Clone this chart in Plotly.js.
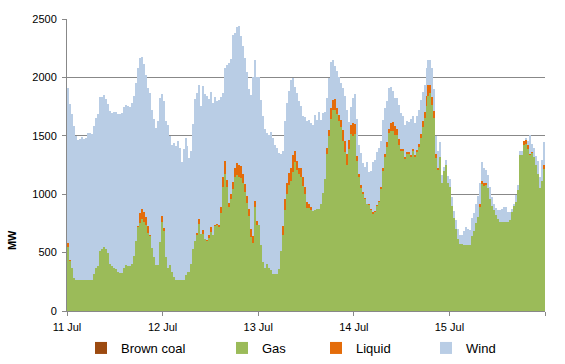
<!DOCTYPE html>
<html>
<head>
<meta charset="utf-8">
<script src="https://cdn.plot.ly/plotly-3.0.1.min.js"></script>
<style>html,body{margin:0;padding:0;background:#fff;}#chart{width:565px;height:364px;}</style>
</head>
<body>
<div id="chart"></div>
<script>
// Half-hourly generation (MW), 11 Jul 00:00 to 15 Jul 23:30, 48 values per day
const startDate = '2011-07-11T00:00:00';
const stepMinutes = 30;
const dayTicks = ['2011-07-11','2011-07-12','2011-07-13','2011-07-14','2011-07-15','2011-07-16'];
const dayLabels = ['11 Jul','12 Jul','13 Jul','14 Jul','15 Jul',''];
const seriesNames = ['Brown coal','Gas','Liquid','Wind'];

const brownCoal = [
0,0,0,0,0,0,0,0,0,0,0,0,0,0,0,0,0,0,0,0,0,0,0,0,0,0,0,0,0,0,0,0,0,0,0,0,0,0,0,0,0,0,0,0,0,0,0,0,
0,0,0,0,0,0,0,0,0,0,0,0,0,0,0,0,0,0,0,0,0,0,0,0,0,0,0,0,0,0,0,0,0,0,0,0,0,0,0,0,0,0,0,0,0,0,0,0,
0,0,0,0,0,0,0,0,0,0,0,0,0,0,0,0,0,0,0,0,0,0,0,0,0,0,0,0,0,0,0,0,0,0,0,0,0,0,0,0,0,0,0,0,0,0,0,0,
0,0,0,0,0,0,0,0,0,0,0,0,0,0,0,0,0,0,0,0,0,0,0,0,0,0,0,0,0,0,0,0,0,0,0,0,0,0,0,0,0,0,0,0,0,0,0,0,
0,0,0,0,0,0,0,0,0,0,0,0,0,0,0,0,0,0,0,0,0,0,0,0,0,0,0,0,0,0,0,0,0,0,0,0,0,0,0,0,0,0,0,0,0,0,0,0
];

const gas = [
548,428,368,283,265,265,265,265,265,265,265,265,265,317,368,385,514,531,548,531,497,402,385,368,360,334,325,325,368,394,385,385,402,471,599,719,753,788,762,736,668,642,539,462,394,394,591,762,
685,462,368,394,334,291,265,265,265,265,265,308,334,334,402,531,599,651,745,659,659,616,599,625,676,651,728,736,719,839,1062,1173,1062,890,959,1045,1147,1164,1147,1139,1096,1019,925,813,634,582,890,736,
736,565,419,368,402,368,351,317,317,317,360,514,651,865,1002,1079,1113,1190,1276,1207,1173,1147,1070,1002,882,882,865,856,865,873,873,916,1010,1130,1344,1498,1644,1721,1721,1687,1627,1575,1455,1361,1250,1387,1515,1498,
1515,1284,1147,1053,1002,959,916,907,865,830,848,899,933,1045,1199,1318,1404,1524,1541,1541,1507,1507,1421,1370,1370,1301,1344,1344,1318,1370,1318,1361,1404,1481,1575,1652,1755,1841,1866,1764,1652,1310,1207,1318,1096,1199,1250,1096,
1060,899,796,702,616,574,574,565,565,565,565,642,685,753,805,890,1088,1070,1079,1053,959,899,865,822,788,762,762,762,762,762,779,848,899,933,1036,1336,1336,1421,1430,1387,1336,1353,1318,1250,1173,1050,1113,1216
];

const liquid = [
34,9,0,0,0,0,0,0,0,0,0,0,0,0,0,0,0,0,0,0,0,0,0,0,0,0,0,0,0,0,0,0,0,0,0,9,86,86,86,68,60,9,0,0,0,0,0,51,
26,0,0,0,0,0,0,0,0,0,0,0,0,0,0,0,0,17,43,0,34,0,9,26,43,0,9,9,17,51,86,111,60,34,43,60,77,103,103,103,77,68,60,60,68,60,51,34,
0,0,0,0,0,0,0,0,0,0,0,0,77,94,94,103,111,145,94,77,51,77,77,60,51,34,26,0,0,0,0,0,0,0,51,51,94,86,94,51,51,60,94,94,94,77,77,111,
86,43,26,26,17,9,0,9,9,17,9,9,9,17,26,26,43,34,68,77,77,51,51,17,17,17,17,17,17,17,17,17,26,34,51,51,86,94,68,68,60,34,17,0,0,0,0,0,
0,0,0,0,0,0,0,0,0,0,0,0,0,0,0,26,26,26,17,0,0,0,0,0,0,0,0,0,0,0,0,0,0,0,0,0,0,34,34,34,9,9,0,0,0,0,0,34
];

const wind = [
1330,1335,1319,1301,1233,1199,1205,1222,1210,1216,1259,1259,1250,1267,1284,1302,1318,1301,1301,1284,1275,1310,1310,1336,1344,1353,1362,1370,1379,1370,1370,1362,1379,1370,1353,1355,1330,1301,1270,1217,1181,1215,1182,1182,1173,1233,1233,1045,
1087,1165,1224,1104,1087,1147,1148,1190,1131,1011,1122,1173,1079,976,968,1070,1216,1198,1147,1096,1233,1242,1233,1164,1156,1130,1095,1053,1070,942,718,796,984,1199,1156,1258,1156,1165,1190,1112,1096,1079,1061,1028,1147,1361,1211,1233,
1267,1241,1251,1190,1122,1139,1182,1164,1104,1079,993,830,642,668,685,702,754,660,548,582,574,531,523,599,694,719,719,736,813,762,831,719,685,574,429,446,394,342,283,317,325,317,360,386,377,154,155,215,
257,317,248,274,248,265,360,274,325,429,436,453,454,393,410,394,351,351,309,266,240,266,292,308,283,274,266,257,309,283,275,292,291,291,249,232,239,214,215,248,189,154,146,129,68,34,43,60,
70,80,60,77,86,77,77,120,154,137,128,154,154,163,180,180,162,128,111,111,103,77,51,60,77,103,111,128,128,85,68,25,17,60,43,34,34,0,17,34,162,68,78,77,111,100,180,197
];

const colors = ['#9C4A10','#9BBB59','#E46C0A','#B9CDE5'];

// timestamps at the centre of each half-hour interval
const t0 = new Date(startDate + 'Z').getTime();
const times = gas.map(function(_, i){
  return new Date(t0 + (i + 0.5) * stepMinutes * 60000).toISOString().replace('Z','');
});

const legendIds = ['legend','legend2','legend3','legend4'];
const series = [brownCoal, gas, liquid, wind];
const data = series.map(function(vals, k){
  return {
    type: 'bar', x: times, y: vals, name: seriesNames[k],
    marker: {color: colors[k], line: {width: 0}},
    legend: legendIds[k],
    hoverinfo: 'skip'
  };
});

const font = '"Liberation Sans", Arial, sans-serif';
const legendLeftPx = [81, 222, 316, 426];

const layout = {
  width: 565, height: 364,
  margin: {l: 67, r: 20, t: 19, b: 53, pad: 0},
  barmode: 'stack', bargap: 0,
  paper_bgcolor: '#ffffff', plot_bgcolor: '#ffffff',
  font: {family: font, size: 11, color: '#000'},
  showlegend: true,
  xaxis: {
    type: 'date', range: ['2011-07-11', '2011-07-16'],
    tickmode: 'array', tickvals: dayTicks, ticktext: dayLabels,
    ticks: 'outside', ticklen: 4, tickcolor: '#888', tickwidth: 1,
    ticklabelstandoff: 2,
    showline: true, linecolor: '#888', linewidth: 1,
    showgrid: false, zeroline: false,
    tickfont: {family: font, size: 11, color: '#000'}
  },
  yaxis: {
    range: [0, 2500], tick0: 0, dtick: 500,
    ticks: 'outside', ticklen: 4, tickcolor: '#888', tickwidth: 1,
    ticklabelstandoff: 3,
    showline: true, linecolor: '#888', linewidth: 1,
    showgrid: true, gridcolor: '#888', gridwidth: 1, zeroline: false,
    tickfont: {family: font, size: 11, color: '#000'}
  },
  annotations: [{
    text: '<b>MW</b>', xref: 'paper', yref: 'paper',
    x: -0.115, y: 0.243, xanchor: 'center', yanchor: 'middle',
    textangle: -90, showarrow: false,
    font: {family: font, size: 11, color: '#000'}
  }]
};

legendIds.forEach(function(id, k){
  layout[id] = {
    orientation: 'h', xref: 'container', yref: 'container',
    x: legendLeftPx[k] / 565, y: 1 - 348 / 364, xanchor: 'left', yanchor: 'middle',
    font: {family: font, size: 13, color: '#000'},
    bgcolor: 'rgba(0,0,0,0)', borderwidth: 0
  };
});

Plotly.newPlot('chart', data, layout, {displayModeBar: false, staticPlot: true});
</script>
</body>
</html>
